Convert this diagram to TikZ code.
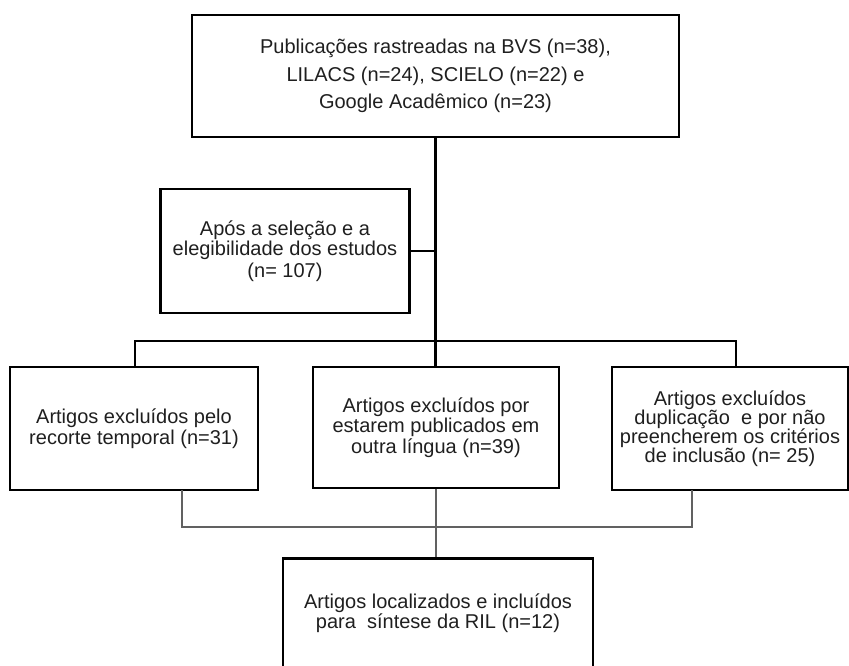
\documentclass[tikz,border=0pt]{standalone}
\usepackage{fontspec}
\setmainfont{Liberation Sans}
\begin{document}
\begin{tikzpicture}[x=1pt,y=-1pt,
  box/.style={draw=black, line width=2.8pt, rectangle, align=center, inner sep=0pt,
    text=black!88, font=\fontsize{20}{20.5}\selectfont},
  thick conn/.style={draw=black, line width=2.8pt},
  thin conn/.style={draw=black!62, line width=1.6pt}]
\useasboundingbox (0,0) rectangle (849,666);
\node[box, minimum width=487pt, minimum height=122pt, font=\fontsize{20}{27.5}\selectfont] (top) at (435.5,76)
  {Publicações rastreadas na BVS (n=38),\\ LILACS (n=24), SCIELO (n=22) e\\ Google Acadêmico (n=23)};
\node[box, minimum width=249pt, minimum height=124pt] (apos) at (285,251)
  {Após a seleção e a\\ elegibilidade dos estudos\\[1.5pt] (n= 107)};
\node[box, minimum width=248pt, minimum height=123pt] (b1) at (134,428.5)
  {Artigos excluídos pelo\\ recorte temporal (n=31)};
\node[box, minimum width=246pt, minimum height=121pt] (b2) at (436,427.5)
  {Artigos excluídos por\\ estarem publicados em\\ outra língua (n=39)};
\node[box, minimum width=236pt, minimum height=123pt, font=\fontsize{20}{19}\selectfont] (b3) at (730,428.5)
  {Artigos excluídos\\ duplicação\ \ e por não\\ preencherem os critérios\\ de inclusão (n= 25)};
\node[box, anchor=north, minimum width=310pt, inner ysep=35pt, text depth=120pt] (fin) at (438,557)
  {Artigos localizados e incluídos\\ para\ \ síntese da RIL (n=12)};
% upper connectors
\draw[thick conn] (top.south) -- (top.south |- b2.north);
\draw[thick conn] (apos.east) -- (apos.east -| top.south);
\coordinate (j1) at (135,341);
\coordinate (j3) at (736,341);
\coordinate (k1) at (135,367);
\coordinate (k3) at (736,367);
\draw[thick conn] (k1) -- (j1) -- (j3) -- (k3);
% lower connectors
\coordinate (l1) at (182,490);
\coordinate (l3) at (692,490);
\coordinate (m) at (436,527);
\draw[thin conn] (l1) |- (m) -| (l3);
\draw[thin conn] (b2.south) -- (b2.south |- fin.north);
\end{tikzpicture}
\end{document}
